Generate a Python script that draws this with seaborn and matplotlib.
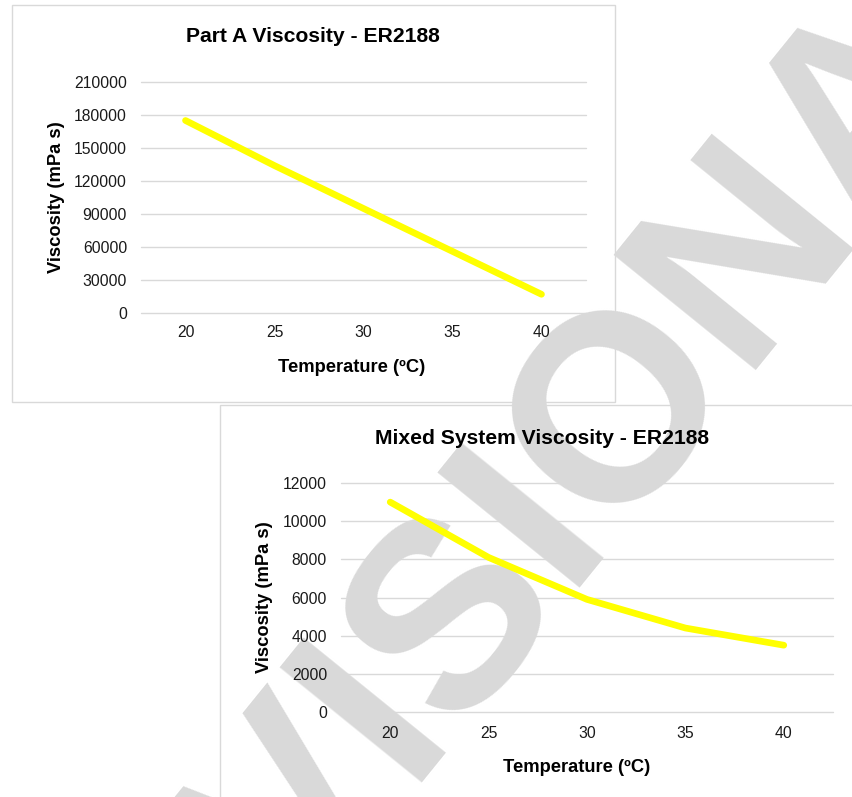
import matplotlib
matplotlib.use("Agg")
import matplotlib.pyplot as plt
import seaborn as sns
from matplotlib.patches import Rectangle

# ---------------- data ----------------
temperature = [20, 25, 30, 35, 40]
part_a_viscosity = [175000, 134000, 95000, 56000, 17000]
mixed_viscosity = [11000, 8100, 5900, 4400, 3500]
part_a_yticks = [0, 30000, 60000, 90000, 120000, 150000, 180000, 210000]
mixed_yticks = [0, 2000, 4000, 6000, 8000, 10000, 12000]
part_a_title = "Part A Viscosity - ER2188"
mixed_title = "Mixed System Viscosity - ER2188"
x_label = "Temperature (ºC)"
y_label = "Viscosity (mPa s)"
watermark = "PROVISIONAL"

# ---------------- style ----------------
sns.set_style("white")
plt.rcParams["font.family"] = ["Liberation Sans", "DejaVu Sans"]

W, H = 853, 797
GRID = "#D9D9D9"
LINE = "#FFFF00"
TXT = "#1a1a1a"

fig = plt.figure(figsize=(W / 100, H / 100), dpi=100)


def fx(x):
    return x / W


def fy(y):
    return 1 - y / H


# chart frames (outer boxes)
fig.add_artist(Rectangle((fx(12), fy(402)), (615 - 12) / W, (402 - 5) / H,
                         transform=fig.transFigure, fill=False, ec=GRID, lw=1.0, zorder=-1))
fig.add_artist(Rectangle((fx(220), fy(900)), (1000 - 220) / W, (900 - 405) / H,
                         transform=fig.transFigure, fill=False, ec=GRID, lw=1.0, zorder=-1))


def make_chart(box, yticks, yvals, xpad, title, title_xy, xlabel_xy, ylabel_xy):
    l, t, r, b = box
    rect = [fx(l), fy(b), (r - l) / W, (b - t) / H]
    axg = fig.add_axes(rect, zorder=0)
    axg.set_facecolor("none")
    ax = fig.add_axes(rect, zorder=2, sharex=axg, sharey=axg)
    ax.set_facecolor("none")

    sns.lineplot(x=temperature, y=yvals, ax=ax, color=LINE, linewidth=4.8,
                 solid_capstyle="round")
    ax.set_xlim(17.5, 42.5)
    ax.set_ylim(yticks[0], yticks[-1])
    ax.set_xticks(temperature)
    ax.set_xticklabels([str(v) for v in temperature])
    ax.set_yticks(yticks)
    ax.set_yticklabels([str(v) for v in yticks])
    ax.set_xlabel("")
    ax.set_ylabel("")

    axg.grid(False)
    axg.yaxis.grid(True, color=GRID, linewidth=1.0)
    for gl in axg.get_ygridlines():
        gl.set_clip_on(False)
    axg.tick_params(labelleft=False, labelbottom=False, length=0)
    for s in axg.spines.values():
        s.set_visible(False)
    for s in ax.spines.values():
        s.set_visible(False)
    ax.grid(False)
    ax.tick_params(axis="y", length=0, labelsize=11.3, colors=TXT, pad=10)
    ax.tick_params(axis="x", length=0, labelsize=11.3, colors=TXT, pad=xpad)

    fig.text(fx(title_xy[0]), fy(title_xy[1]), title, ha="center", va="center",
             fontsize=15.2, fontweight="bold", color="black", zorder=3)
    fig.text(fx(xlabel_xy[0]), fy(xlabel_xy[1]), x_label, ha="center", va="center",
             fontsize=13.2, fontweight="bold", color="black", zorder=3)
    fig.text(fx(ylabel_xy[0]), fy(ylabel_xy[1]), y_label, ha="center", va="center",
             rotation=90, fontsize=13.2, fontweight="bold", color="black", zorder=3)
    return ax


make_chart((141, 82, 586, 313), part_a_yticks, part_a_viscosity, 8.6,
           part_a_title, (313, 37), (352, 367), (57, 197))
make_chart((341, 483, 833, 712), mixed_yticks, mixed_viscosity, 10.2,
           mixed_title, (542, 438), (577, 768), (265, 597))

# watermark: above frames/gridlines, below data and text
fig.text(fx(507), fy(656), watermark, ha="center", va="baseline", rotation=51,
         rotation_mode="anchor", fontsize=191, fontweight="bold", color=GRID, zorder=1)

fig.savefig("out.png", dpi=100)
